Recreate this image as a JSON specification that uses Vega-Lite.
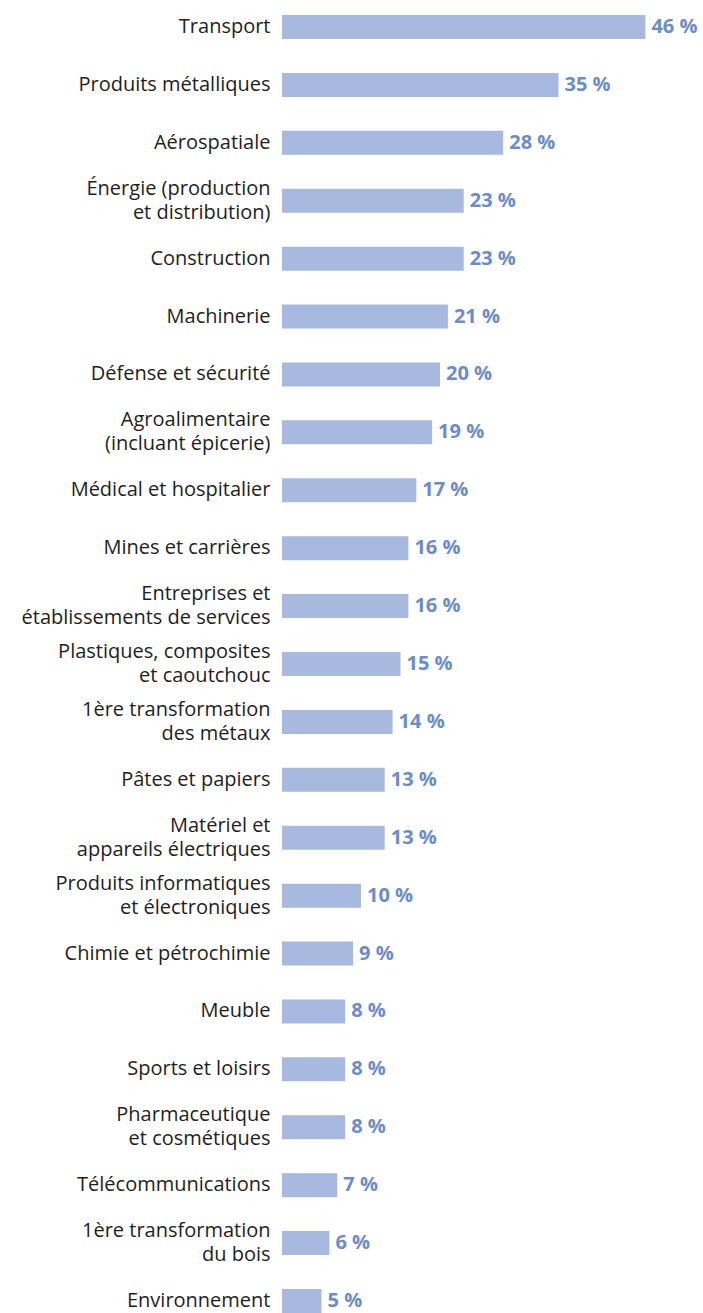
{
  "$schema": "https://vega.github.io/schema/vega-lite/v6.json",
  "autosize": {"type": "none"},
  "padding": {"left": 282, "top": 0, "right": 26, "bottom": 0},
  "width": 395,
  "height": 1313,
  "background": "white",
  "config": {"view": {"stroke": null}},
  "data": {"values": [
    {"label": "Transport", "v": 46},
    {"label": "Produits métalliques", "v": 35},
    {"label": "Aérospatiale", "v": 28},
    {"label": "Énergie (production|et distribution)", "v": 23},
    {"label": "Construction", "v": 23},
    {"label": "Machinerie", "v": 21},
    {"label": "Défense et sécurité", "v": 20},
    {"label": "Agroalimentaire|(incluant épicerie)", "v": 19},
    {"label": "Médical et hospitalier", "v": 17},
    {"label": "Mines et carrières", "v": 16},
    {"label": "Entreprises et|établissements de services", "v": 16},
    {"label": "Plastiques, composites|et caoutchouc", "v": 15},
    {"label": "1ère transformation|des métaux", "v": 14},
    {"label": "Pâtes et papiers", "v": 13},
    {"label": "Matériel et|appareils électriques", "v": 13},
    {"label": "Produits informatiques|et électroniques", "v": 10},
    {"label": "Chimie et pétrochimie", "v": 9},
    {"label": "Meuble", "v": 8},
    {"label": "Sports et loisirs", "v": 8},
    {"label": "Pharmaceutique|et cosmétiques", "v": 8},
    {"label": "Télécommunications", "v": 7},
    {"label": "1ère transformation|du bois", "v": 6},
    {"label": "Environnement", "v": 5}
  ]},
  "transform": [{"calculate": "datum.v + ' %'", "as": "txt"}],
  "encoding": {
    "y": {
      "field": "label", "type": "nominal", "sort": null,
      "scale": {"paddingInner": 0.5855, "paddingOuter": 0.1295, "align": 1},
      "axis": {
        "title": null, "domain": false, "ticks": false, "labelPadding": 12,
        "labelExpr": "split(datum.value, '|')",
        "labelOffset": {"condition": {"test": "indexof(datum.value, '|') >= 0", "value": -12}, "value": 0},
        "labelFont": "Open Sans", "labelFontSize": 20, "labelColor": "#1e1e1e",
        "labelLineHeight": 24, "labelLimit": 300
      }
    },
    "x": {
      "field": "v", "type": "quantitative",
      "scale": {"domain": [0, 50], "nice": false},
      "axis": null
    }
  },
  "layer": [
    {"mark": {"type": "bar", "color": "#a7b9df"}},
    {"mark": {"type": "text", "align": "left", "baseline": "middle", "dx": 6, "font": "Open Sans", "fontWeight": "bold", "fontSize": 20, "color": "#6b8cca"},
     "encoding": {"text": {"field": "txt"}}}
  ]
}
